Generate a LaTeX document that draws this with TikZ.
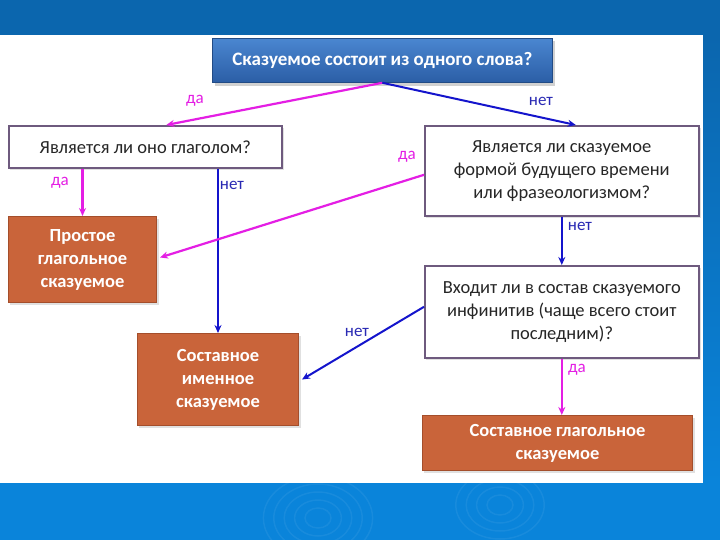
\documentclass[tikz,border=0pt]{standalone}
\usepackage{fontspec}
\setmainfont{Carlito}
\usetikzlibrary{arrows.meta,calc}
\definecolor{bandtop}{HTML}{0B66AE}
\definecolor{bandbot}{HTML}{0A84DA}
\definecolor{orangebox}{HTML}{C9643A}
\definecolor{orangeedge}{HTML}{A44E2B}
\definecolor{qedge}{HTML}{6E5A7E}
\definecolor{mag}{HTML}{E41EE4}
\definecolor{arrblue}{HTML}{1414CC}
\definecolor{lblblue}{HTML}{2A2AB4}
\definecolor{topA}{HTML}{4A86D0}
\definecolor{topB}{HTML}{2B5EA6}
\tikzset{
  qbox/.style={draw=qedge, line width=1.6pt, fill=white, anchor=north west, inner sep=0pt, align=center, font=\fontsize{18.5}{23}\selectfont, text=black!85},
  abox/.style={draw=orangeedge, line width=1pt, fill=orangebox, anchor=north west, inner sep=0pt, align=center, font=\bfseries\fontsize{18.5}{23}\selectfont, text=white},
  magarr/.style={draw=mag, line width=2.2pt, -{Stealth[length=8pt,width=7pt]}},
  bluarr/.style={draw=arrblue, line width=2pt, -{Stealth[length=8pt,width=7pt]}},
  maglbl/.style={text=mag, font=\fontsize{17}{19}\selectfont, inner sep=1pt},
  blulbl/.style={text=lblblue, font=\fontsize{17}{19}\selectfont, inner sep=1pt},
}
\begin{document}
\begin{tikzpicture}[x=1pt,y=-1pt]
\useasboundingbox (0,0) rectangle (720,540);
% background
\fill[white] (0,0) rectangle (720,540);
\fill[bandtop] (0,0) rectangle (720,35);
\fill[bandbot] (0,483) rectangle (720,540);
\shade[top color=bandtop, bottom color=bandbot] (703,35) rectangle (720,483);
\foreach \r in {10,18,26,34,42}{\draw[white, opacity=0.06, line width=1.5pt] (318,518) ellipse ({\r*1.3} and \r);}
\foreach \r in {10,18,26,34}{\draw[white, opacity=0.06, line width=1.5pt] (500,505) ellipse ({\r*1.3} and \r);}
% shadows
\fill[black!18] (215,41) rectangle (555,86);
\fill[black!12] (10,128) rectangle (284,170);
\fill[black!12] (426,128) rectangle (701,218);
\fill[black!12] (426,268) rectangle (701,360);
\fill[black!12] (10,219) rectangle (159,305);
\fill[black!12] (139,336) rectangle (301,428);
\fill[black!12] (424,418) rectangle (695,473);
% top question
\node[draw=topB!80!black, line width=0.8pt, top color=topA, bottom color=topB, anchor=north west, inner sep=0pt, minimum width=340pt, minimum height=44pt, text=white, font=\bfseries\fontsize{19}{22}\selectfont] (top) at (212,38) {Сказуемое состоит из одного слова?};
% questions
\node[qbox, minimum width=273pt, minimum height=42pt] (l1) at (8,125) {Является ли оно глаголом?};
\node[qbox, minimum width=274pt, minimum height=90pt] (r1) at (424,125) {Является ли сказуемое\\формой будущего времени\\или фразеологизмом?};
\node[qbox, minimum width=274pt, minimum height=92pt] (r2) at (424,265) {Входит ли в состав сказуемого\\инфинитив (чаще всего стоит\\последним)?};
% answers
\node[abox, minimum width=148pt, minimum height=86pt] (o1) at (8,216) {Простое\\глагольное\\сказуемое};
\node[abox, minimum width=161pt, minimum height=92pt] (o2) at (137,333) {Составное\\именное\\сказуемое};
\node[abox, minimum width=270pt, minimum height=55pt] (o3) at (422,415) {Составное глагольное\\сказуемое};
% connectors
\draw[magarr] (top.south) -- ([xshift=21pt]l1.north);
\draw[bluarr] (top.south) -- ([xshift=14pt]r1.north);
\draw[magarr] (o1.north |- l1.south) -- (o1.north);
\draw[bluarr] (o2.north |- l1.south) -- (o2.north);
\draw[magarr] ([yshift=-4pt]r1.west) -- ([xshift=3pt,yshift=2pt]o1.east);
\draw[bluarr] (r1.south) -- (r2.north);
\draw[bluarr] ([yshift=5pt]r2.west) -- ([xshift=3pt]o2.east);
\draw[magarr] (r2.south) -- (r2.south |- o3.north);
% labels
\node[maglbl] (la1) at (195,101) {да};
\node[blulbl] (lb1) at (541,101) {нет};
\node[maglbl] (la2) at (60,183) {да};
\node[blulbl] (lb2) at (232,185) {нет};
\node[maglbl] (la3) at (407,157) {да};
\node[blulbl] (lb3) at (580,226) {нет};
\node[blulbl] (lb4) at (357,332) {нет};
\node[maglbl] (la4) at (577,370) {да};
\end{tikzpicture}
\end{document}
